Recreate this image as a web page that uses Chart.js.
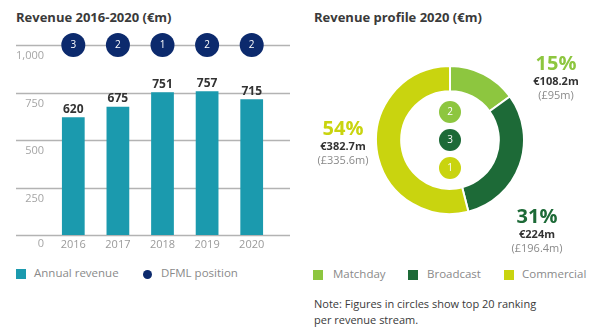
<!DOCTYPE html>
<html>
<head>
<meta charset="utf-8">
<script src="https://cdn.jsdelivr.net/npm/chart.js@4.4.0/dist/chart.umd.min.js"></script>
<style>
  html, body { margin:0; padding:0; background:#fff; }
  body { width:600px; height:336px; position:relative; overflow:hidden; font-family:"Open Sans", sans-serif; }
  .abs { position:absolute; white-space:nowrap; }
  .title { font-weight:700; font-size:13px; color:#3a3a3a; line-height:16px; }
  .leg { font-size:11.5px; color:#8a8a8a; line-height:14px; }
  .sw { position:absolute; width:10px; height:10px; }
  .pct { font-weight:700; font-size:20px; line-height:22px; text-align:center; width:80px; }
  .eur { font-weight:700; font-size:11px; color:#333; line-height:14px; text-align:center; width:80px; }
  .gbp { font-size:11px; color:#8a8a8a; line-height:14px; text-align:center; width:80px; }
  .note { font-size:11px; color:#3a3a3a; line-height:16px; }
</style>
</head>
<body>
<div class="abs title" style="left:16px; top:9px;">Revenue 2016-2020 (€m)</div>
<div class="abs title" style="left:314px; top:9px;">Revenue profile 2020 (€m)</div>

<canvas id="bar" class="abs" style="left:0; top:0;" width="300" height="260"></canvas>
<canvas id="donut" class="abs" style="left:375px; top:65px;" width="150" height="150"></canvas>

<!-- left legend -->
<div class="sw" style="left:16px; top:269px; background:#1b9aae;"></div>
<div class="abs leg" style="left:34px; top:266px;">Annual revenue</div>
<div class="abs" style="left:143px; top:270px; width:9px; height:9px; border-radius:50%; background:#0c2a6d;"></div>
<div class="abs leg" style="left:161px; top:266px;">DFML position</div>

<!-- right legend -->
<div class="sw" style="left:313px; top:270px; background:#8dc63f;"></div>
<div class="abs leg" style="left:333px; top:267px;">Matchday</div>
<div class="sw" style="left:408px; top:270px; background:#1d6a37;"></div>
<div class="abs leg" style="left:427px; top:267px;">Broadcast</div>
<div class="sw" style="left:504px; top:270px; background:#c9d40f;"></div>
<div class="abs leg" style="left:522px; top:267px;">Commercial</div>

<div class="abs note" style="left:314px; top:296px;">Note: Figures in circles show top 20 ranking</div>
<div class="abs note" style="left:314px; top:312px;">per revenue stream.</div>

<div id="labels"></div>

<script>
// ---- data ----
const years = ["2016", "2017", "2018", "2019", "2020"];
const revenue = [620, 675, 751, 757, 715];
const dfmlPosition = [3, 2, 1, 2, 2];
const yTickValues = [0, 250, 500, 750, 1000];
const yTickLabels = ["0", "250", "500", "750", "1,000"];

const streams = ["Matchday", "Broadcast", "Commercial"];
const streamShares = [15, 31, 54];
const streamEur = ["€108.2m", "€224m", "€382.7m"];
const streamGbp = ["(£95m)", "(£196.4m)", "(£335.6m)"];
const streamRanking = [2, 3, 1];

const teal = "#1b9aae";
const navy = "#0c2a6d";
const streamColors = ["#8dc63f", "#1d6a37", "#c9d40f"];
const FONT = '"Open Sans", sans-serif';

// ---- bar chart ----
const barDecor = {
  id: 'barDecor',
  beforeDatasetsDraw(chart) {
    const ctx = chart.ctx, y = chart.scales.y;
    ctx.save();
    ctx.strokeStyle = "#b3b3b3";
    ctx.lineWidth = 1.5;
    yTickValues.forEach(v => {
      const py = Math.round(y.getPixelForValue(v)) + 0.5;
      ctx.beginPath(); ctx.moveTo(16, py); ctx.lineTo(290, py); ctx.stroke();
    });
    ctx.fillStyle = "#a5a5a5";
    ctx.font = "11px " + FONT;
    ctx.textAlign = "right"; ctx.textBaseline = "middle";
    yTickValues.forEach((v, i) => {
      ctx.fillText(yTickLabels[i], 44, y.getPixelForValue(v) + (v === 0 ? 9 : 11));
    });
    ctx.restore();
  },
  afterDatasetsDraw(chart) {
    const ctx = chart.ctx;
    ctx.save();
    const bars = chart.getDatasetMeta(0).data;
    ctx.fillStyle = "#333";
    ctx.font = "bold 12px " + FONT;
    ctx.textAlign = "center"; ctx.textBaseline = "middle";
    bars.forEach((b, i) => ctx.fillText(String(revenue[i]), b.x, b.y - 8));
    const pts = chart.getDatasetMeta(1).data;
    ctx.fillStyle = "#fff";
    ctx.font = "10px " + FONT;
    pts.forEach((p, i) => ctx.fillText(String(dfmlPosition[i]), p.x, p.y + 0.5));
    ctx.restore();
  }
};

new Chart(document.getElementById('bar'), {
  data: {
    labels: years,
    datasets: [
      { type: 'bar', label: 'Annual revenue', data: revenue, backgroundColor: teal,
        categoryPercentage: 1, barPercentage: 0.51, order: 2 },
      { type: 'line', label: 'DFML position', data: years.map(() => 1000), showLine: false,
        pointRadius: 12, pointHoverRadius: 12, pointBackgroundColor: navy, pointBorderWidth: 0,
        clip: false, order: 1 }
    ]
  },
  options: {
    responsive: false, animation: false,
    devicePixelRatio: 1,
    layout: { padding: { left: 51, right: 26, top: 45, bottom: 0 } },
    plugins: { legend: { display: false }, tooltip: { enabled: false } },
    scales: {
      y: { display: false, min: 0, max: 1000 },
      x: { grid: { display: false, drawTicks: false }, border: { display: false },
           ticks: { color: "#9a9a9a", font: { family: FONT, size: 11 }, padding: 3 },
           afterFit(scale) { scale.height = 25; } }
    }
  },
  plugins: [barDecor]
});

// ---- doughnut ----
const donutDecor = {
  id: 'donutDecor',
  afterDatasetsDraw(chart) {
    const ctx = chart.ctx;
    const arc = chart.getDatasetMeta(0).data[0];
    const cx = arc.x, cy = arc.y;
    ctx.save();
    const offs = [-28, 0, 28];
    streamRanking.forEach((r, i) => {
      ctx.beginPath();
      ctx.arc(cx, cy + offs[i], 11, 0, Math.PI * 2);
      ctx.fillStyle = streamColors[i];
      ctx.fill();
      ctx.fillStyle = "#fff";
      ctx.font = "10px " + FONT;
      ctx.textAlign = "center"; ctx.textBaseline = "middle";
      ctx.fillText(String(r), cx, cy + offs[i] + 0.5);
    });
    ctx.restore();
  }
};

new Chart(document.getElementById('donut'), {
  type: 'doughnut',
  data: {
    labels: streams,
    datasets: [{ data: streamShares, backgroundColor: streamColors, borderColor: "#fff", borderWidth: 2 }]
  },
  options: {
    responsive: false, animation: false, devicePixelRatio: 1,
    cutout: '66%',
    layout: { padding: 0 },
    plugins: { legend: { display: false }, tooltip: { enabled: false } }
  },
  plugins: [donutDecor]
});

// ---- doughnut labels (text) ----
const labelPos = [ {x:556, y:52}, {x:537, y:205}, {x:343, y:117} ];
const labelsEl = document.getElementById('labels');
streams.forEach((s, i) => {
  const p = labelPos[i];
  const mk = (cls, txt, top, color) => {
    const d = document.createElement('div');
    d.className = 'abs ' + cls;
    d.style.left = (p.x - 40) + 'px';
    d.style.top = top + 'px';
    if (color) d.style.color = color;
    d.textContent = txt;
    labelsEl.appendChild(d);
  };
  mk('pct', streamShares[i] + '%', p.y, streamColors[i]);
  mk('eur', streamEur[i], p.y + 22);
  mk('gbp', streamGbp[i], p.y + 36);
});
</script>
</body>
</html>
